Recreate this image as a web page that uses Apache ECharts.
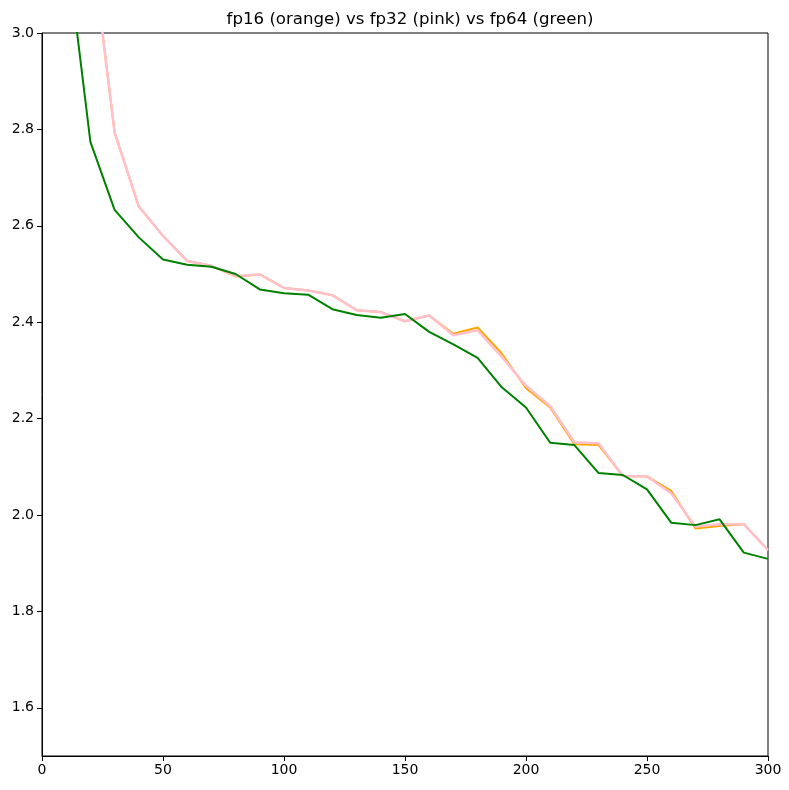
<!DOCTYPE html>
<html>
<head>
<meta charset="utf-8">
<script src="https://cdn.jsdelivr.net/npm/echarts@6/dist/echarts.min.js"></script>
<style>
html,body{margin:0;padding:0;background:#fff;}
#chart{width:789px;height:790px;}
</style>
</head>
<body>
<div id="chart"></div>
<script>
const steps = [0,10,20,30,40,50,60,70,80,90,100,110,120,130,140,150,160,170,180,190,200,210,220,230,240,250,260,270,280,290,300];
const fp16 = [4.6,3.7,3.206,2.794,2.640,2.579,2.527,2.517,2.495,2.499,2.471,2.466,2.456,2.425,2.421,2.402,2.414,2.376,2.389,2.335,2.263,2.223,2.147,2.145,2.081,2.080,2.050,1.972,1.977,1.981,1.927];
const fp32 = [4.6,3.7,3.206,2.794,2.640,2.579,2.527,2.517,2.496,2.499,2.471,2.466,2.456,2.425,2.421,2.402,2.414,2.373,2.383,2.328,2.268,2.226,2.151,2.149,2.081,2.080,2.045,1.976,1.981,1.981,1.927];
const fp64 = [4.2,3.186,2.774,2.633,2.576,2.530,2.519,2.515,2.500,2.468,2.460,2.457,2.427,2.415,2.409,2.417,2.380,2.354,2.326,2.265,2.223,2.150,2.145,2.087,2.083,2.053,1.984,1.979,1.991,1.922,1.909];
const yTicks = [1.6,1.8,2.0,2.2,2.4,2.6,2.8,3.0];
const xTicks = [0,50,100,150,200,250,300];

const pairs = (ys) => steps.map((x,i)=>[x, ys[i]]);
const chart = echarts.init(document.getElementById('chart'), null, {renderer:'canvas'});
const font = 'DejaVu Sans';
chart.setOption({
  animation:false,
  backgroundColor:'#fff',
  title:{
    text:'fp16 (orange) vs fp32 (pink) vs fp64 (green)',
    left:405, top:6, textAlign:'center',
    textStyle:{fontFamily:font,fontSize:16.6,fontWeight:'normal',color:'#000'}
  },
  grid:{left:42,right:21,top:33,bottom:34,show:true,borderColor:'#000',borderWidth:1,backgroundColor:'transparent'},
  xAxis:{
    type:'value', min:0, max:300, interval:50,
    axisLine:{show:true,lineStyle:{color:'#000',width:1}},
    axisTick:{show:true,length:5,inside:false,lineStyle:{color:'#000'},customValues:xTicks},
    axisLabel:{color:'#000',fontFamily:font,fontSize:14,margin:7,customValues:xTicks},
    splitLine:{show:false}
  },
  yAxis:{
    type:'value', min:1.5, max:3.0,
    axisLine:{show:true,lineStyle:{color:'#000',width:1}},
    axisTick:{show:true,length:5,inside:false,lineStyle:{color:'#000'},customValues:yTicks},
    axisLabel:{color:'#000',fontFamily:font,fontSize:14,margin:8,customValues:yTicks,formatter:(v)=>Number(v).toFixed(1)},
    splitLine:{show:false}
  },
  series:[
    {name:'fp16',type:'line',data:pairs(fp16),showSymbol:false,symbol:'none',clip:true,lineStyle:{color:'#FFA500',width:2},itemStyle:{color:'#FFA500'}},
    {name:'fp32',type:'line',data:pairs(fp32),showSymbol:false,symbol:'none',clip:true,lineStyle:{color:'#FFC0CB',width:2.5},itemStyle:{color:'#FFC0CB'}},
    {name:'fp64',type:'line',data:pairs(fp64),showSymbol:false,symbol:'none',clip:true,lineStyle:{color:'#008000',width:2},itemStyle:{color:'#008000'}}
  ]
});
</script>
</body>
</html>
